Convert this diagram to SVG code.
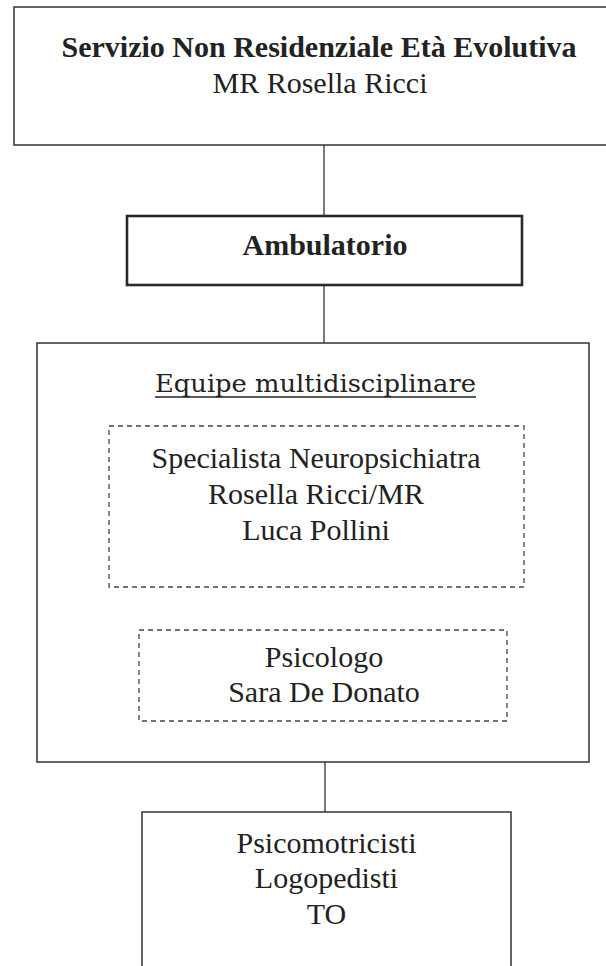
<svg xmlns="http://www.w3.org/2000/svg" width="606" height="966" viewBox="0 0 606 966">
<style>
.box{fill:#fff;stroke:#333;stroke-width:1.5}
.thick{fill:#fff;stroke:#2a2a2a;stroke-width:2.6}
.dash{fill:none;stroke:#444;stroke-width:1.3;stroke-dasharray:5 4}
.t{font-family:"Liberation Serif","Times New Roman",serif;font-size:30px;fill:#222;text-anchor:middle}
.b{font-weight:bold}
.c{font-family:"DejaVu Serif","Liberation Serif",serif;font-size:24px;fill:#222;text-anchor:middle}
.conn{stroke:#333;stroke-width:1.3;fill:none}
</style>
<rect width="606" height="966" fill="#fff"/>
<g id="connectors">
<line class="conn" x1="324" y1="145" x2="324" y2="216"/>
<line class="conn" x1="324" y1="285" x2="324" y2="343"/>
<line class="conn" x1="325" y1="762" x2="325" y2="812"/>
</g>
<g id="servizio">
<rect class="box" x="14" y="7" width="620" height="138"/>
<text class="t b" x="319" y="57">Servizio Non Residenziale Età Evolutiva</text>
<text class="t" x="320" y="93">MR Rosella Ricci</text>
</g>
<g id="ambulatorio">
<rect class="thick" x="127" y="216" width="395" height="69"/>
<text class="t b" x="325" y="255">Ambulatorio</text>
</g>
<g id="equipe">
<rect class="box" x="37" y="343" width="552" height="419"/>
<text class="c" x="315.5" y="392" textLength="321" lengthAdjust="spacingAndGlyphs">Equipe multidisciplinare</text>
<line x1="155" y1="397" x2="476" y2="397" stroke="#222" stroke-width="1.3"/>
</g>
<g id="neuropsichiatra">
<rect class="dash" x="109" y="426" width="415" height="161"/>
<text class="t" x="316" y="468">Specialista Neuropsichiatra</text>
<text class="t" x="316" y="504">Rosella Ricci/MR</text>
<text class="t" x="316" y="540">Luca Pollini</text>
</g>
<g id="psicologo">
<rect class="dash" x="139" y="630" width="368" height="91"/>
<text class="t" x="324" y="667">Psicologo</text>
<text class="t" x="324" y="702">Sara De Donato</text>
</g>
<g id="terapisti">
<rect class="box" x="142" y="812" width="369" height="170"/>
<text class="t" x="326.5" y="853">Psicomotricisti</text>
<text class="t" x="326.5" y="888">Logopedisti</text>
<text class="t" x="326.5" y="924">TO</text>
</g>
</svg>
